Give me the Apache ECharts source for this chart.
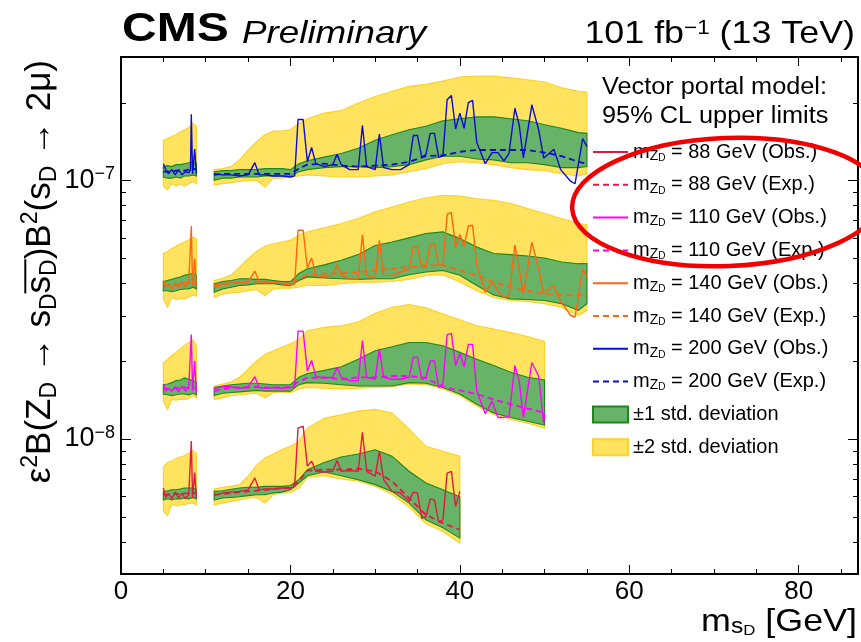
<!DOCTYPE html>
<html>
<head>
<meta charset="utf-8">
<script src="https://cdn.jsdelivr.net/npm/echarts@6/dist/echarts.min.js"></script>
<style>
html, body { margin: 0; padding: 0; background: #fff; }
#chart { width: 861px; height: 642px; }
</style>
</head>
<body>
<div id="chart"></div>
<script>
// all limits in units of 1e-9 (multiplied by UNIT when plotted)
const UNIT = 1e-9;

// mass grid of the expected bands (two windows: 5-8.9 and 11-55 GeV)
const X_BAND = [5, 5.5, 6, 6.5, 7, 7.5, 8, 8.5, 8.9,
  11, 12, 13, 14, 15, 16, 17, 18, 19, 20, 21, 22, 24, 26, 28, 30, 32, 34, 36, 38, 40,
  42, 44, 46, 48, 50, 52, 54, 55];

// mass points of the observed limits
const X_OBS = [5, 5.3, 5.6, 6, 6.4, 6.8, 7.2, 7.6, 8, 8.2, 8.3, 8.45, 8.7, 8.9,
  11, 12, 13, 14, 15, 15.8, 16.3, 17, 18, 19, 20, 20.5, 20.9, 21.5, 22, 22.5, 23,
  24, 25, 25.5, 26, 27, 28, 28.5, 29, 30, 30.5, 31, 32, 33, 34, 34.5, 35, 35.5, 36,
  36.5, 37, 37.5, 38, 38.5, 39, 39.5, 40, 40.5, 41, 41.5, 42, 43, 43.8, 44.5, 45.2,
  45.8, 46.5, 47, 47.5, 48.5, 49.3, 49.9, 50, 51.1, 51.9, 53.1, 53.6, 54.5, 55];

// m_ZD = 88 GeV
const OBS_88 = [6.45, 5.93, 6.17, 5.86, 6.22, 5.9, 6.17, 5.86, 6.08, 6.17, 9.8, 5.9, 7.4, 5.9,
  6.03, 6.17, 6.22, 6.26, 6.35, 7.06, 6.35, 6.4, 6.4, 6.45, 6.45, 6.55, 11.0, 11.2, 7.84, 8.2, 7.49,
  7.44, 7.49, 8.25, 7.49, 7.54, 7.49, 10.6, 7.49, 7.17, 8.96, 6.95, 6.26, 6.17, 5.73, 6.22, 6.17, 4.93, 5.0,
  5.86, 5.8, 4.76, 4.86, 7.37, 7.49, 5.48, 6.26];
const EXP_88 = [6.08, 6.08, 6.08, 6.12, 6.12, 6.15, 6.15, 6.17, 6.15,
  6.08, 6.12, 6.17, 6.22, 6.26, 6.3, 6.35, 6.4, 6.45, 6.45, 6.85, 7.54, 7.6, 7.6, 7.67, 7.49, 6.85, 5.9, 5.08, 4.72, 4.45];
const LO1_88 = [5.8, 5.86, 5.8, 5.86, 5.86, 5.9, 5.86, 5.93, 5.86,
  5.8, 5.9, 5.93, 5.97, 6.03, 6.08, 6.08, 6.17, 6.22, 6.35, 6.75, 7.2, 7.44, 7.2, 6.95, 6.65, 6.26, 5.64, 4.86, 4.53, 4.13];
const UP1_88 = [6.26, 6.3, 6.35, 6.35, 6.4, 6.45, 6.45, 6.45, 6.35,
  6.26, 6.3, 6.38, 6.45, 6.5, 6.5, 6.55, 6.55, 6.55, 6.6, 6.95, 7.6, 8.1, 8.5, 8.74, 9.07, 8.57, 7.49, 6.75, 6.35, 5.97];
const LO2_88 = [5.24, 5.05, 5.6, 5.5, 5.56, 5.56, 5.64, 5.64, 5.56,
  5.56, 5.64, 5.73, 5.8, 5.9, 5.93, 5.64, 6.08, 6.17, 6.2, 6.45, 7.1, 7.2, 7.0, 6.85, 6.55, 6.1, 5.45, 4.7, 4.38, 3.95];
const UP2_88 = [7.8, 8.1, 8.2, 8.4, 8.5, 8.6, 8.8, 9.0, 8.8,
  6.4, 6.5, 6.55, 6.65, 7.17, 7.9, 8.44, 8.74, 9.1, 9.35, 9.8, 11.0, 12.0, 12.4, 12.8, 13.0, 12.6, 10.9, 9.35, 8.96, 8.57];

// m_ZD = 110 GeV
const OBS_110 = [16.3, 15.3, 15.7, 15.3, 15.9, 15.2, 16.0, 15.3, 15.8, 15.6, 25.3, 15.3, 20.0, 15.1,
  15.7, 15.9, 15.9, 15.7, 15.9, 17.4, 15.8, 15.7, 15.8, 15.7, 15.8, 15.9, 26.1, 26.1, 18.3, 20.1, 17.4,
  17.2, 17.3, 18.9, 17.3, 16.8, 16.8, 24.0, 17.3, 17.0, 22.3, 17.3, 17.0, 17.0, 17.3, 20.7, 20.7, 17.0, 17.3,
  20.0, 20.0, 15.8, 16.3, 25.3, 25.6, 19.2, 21.4, 19.0, 23.2, 23.2, 15.3, 12.5, 14.0,
  12.1, 12.1, 12.2, 19.2, 16.8, 12.1, 19.7, 17.5, 11.5, 12.6];
const EXP_110 = [15.6, 15.6, 15.6, 15.7, 15.7, 15.8, 15.7, 15.8, 15.7,
  15.3, 15.6, 15.7, 15.8, 15.8, 15.9, 15.8, 15.8, 15.8, 15.9, 16.7, 17.2, 17.3, 17.0, 17.3, 17.3, 17.5, 17.5, 17.2, 15.9, 15.4,
  14.9, 14.2, 13.6, 13.1, 12.6];
const LO1_110 = [14.9, 14.8, 14.7, 14.8, 14.9, 14.9, 14.8, 15.0, 14.8,
  14.7, 15.0, 15.1, 15.2, 15.3, 15.4, 15.3, 15.3, 15.3, 15.3, 16.2, 16.5, 16.4, 16.2, 16.0, 16.0, 16.0, 16.5, 16.4, 15.8, 14.9,
  13.6, 12.6, 12.1, 11.7, 11.3];
const UP1_110 = [16.2, 16.3, 16.5, 16.8, 16.9, 17.2, 17.0, 16.8, 16.5,
  15.8, 16.0, 16.2, 16.3, 16.4, 16.4, 16.3, 16.2, 16.2, 16.2, 17.3, 17.9, 18.4, 19.0, 20.3, 21.9, 22.7, 23.6, 23.6, 22.9, 21.6,
  20.3, 19.2, 18.1, 17.3, 16.9];
const LO2_110 = [14.0, 13.0, 14.2, 14.1, 14.2, 14.2, 14.3, 14.7, 14.4,
  14.2, 14.4, 14.7, 14.8, 14.9, 15.0, 14.4, 15.1, 15.2, 15.1, 15.6, 15.8, 15.7, 15.6, 15.7, 15.8, 15.9, 16.3, 16.2, 15.6, 14.7,
  13.4, 12.4, 11.9, 11.5, 11.0];
const UP2_110 = [19.7, 20.3, 21.0, 21.6, 22.3, 23.0, 23.6, 24.1, 23.0,
  16.0, 16.3, 16.6, 17.3, 18.6, 20.0, 21.2, 21.9, 22.6, 23.3, 24.3, 26.2, 27.0, 27.4, 28.3, 30.6, 32.3, 33.1, 32.1, 30.4, 28.9,
  27.4, 26.6, 25.8, 24.9, 23.8];

// m_ZD = 140 GeV
const OBS_140 = [41.0, 38.6, 39.8, 38.0, 40.1, 38.3, 40.6, 38.6, 40.1, 39.8, 66.6, 39.2, 49.8, 39.2,
  39.2, 39.8, 40.1, 40.1, 40.4, 44.5, 40.6, 40.1, 40.4, 39.8, 39.4, 39.8, 64.1, 64.1, 45.8, 50.1, 42.9,
  42.3, 43.1, 47.1, 43.1, 41.6, 41.4, 61.7, 42.9, 41.9, 58.6, 42.9, 42.9, 44.2, 45.2, 55.2, 55.2, 46.2, 46.2,
  56.8, 56.8, 46.9, 47.1, 73.8, 75.1, 55.2, 61.7, 55.6, 66.6, 67.0, 47.1, 36.9, 40.6,
  37.4, 35.2, 35.8, 56.3, 45.5, 36.3, 57.7, 45.5, 36.3, 37.0, 39.2, 34.0, 30.0, 29.6, 45.5, 42.2];
const EXP_140 = [39.2, 39.2, 39.2, 39.4, 39.8, 40.1, 40.4, 40.6, 40.1,
  38.6, 39.4, 40.1, 40.4, 40.6, 40.6, 40.6, 40.4, 40.1, 39.8, 41.6, 43.1, 43.6, 43.6, 44.2, 44.8, 45.5, 46.2, 46.9, 46.9, 44.8,
  42.9, 40.4, 38.6, 37.4, 36.3, 36.0, 36.0, 36.1];
const LO1_140 = [37.4, 37.4, 37.1, 37.4, 37.8, 38.0, 38.0, 38.6, 38.0,
  36.9, 38.0, 38.6, 39.2, 39.4, 39.8, 39.8, 39.8, 39.4, 39.2, 41.0, 42.3, 41.9, 41.6, 41.4, 41.6, 41.6, 43.1, 44.2, 44.8, 42.9,
  39.2, 36.0, 34.8, 34.6, 34.3, 33.3, 31.4, 33.3];
const UP1_140 = [40.6, 41.0, 41.4, 41.9, 42.3, 42.9, 43.3, 43.6, 42.9,
  39.8, 40.6, 41.0, 41.6, 41.6, 41.4, 41.4, 41.0, 40.6, 40.6, 43.6, 45.5, 47.1, 49.1, 51.6, 56.0, 57.7, 59.9, 62.3, 63.2, 59.5,
  55.2, 52.1, 51.6, 51.0, 50.1, 48.3, 47.6, 47.6];
const LO2_140 = [34.8, 32.3, 35.3, 34.6, 35.0, 34.8, 35.3, 36.0, 35.6,
  35.2, 36.3, 36.7, 36.9, 37.4, 37.8, 35.8, 38.0, 38.3, 38.3, 38.6, 39.2, 39.2, 39.8, 40.4, 40.4, 40.6, 41.4, 42.9, 43.1, 40.4,
  37.4, 35.2, 34.3, 34.0, 33.3, 32.3, 30.0, 31.4];
const UP2_140 = [52.1, 53.1, 54.4, 55.6, 56.8, 57.7, 58.9, 60.3, 59.5,
  41.0, 41.8, 43.0, 46.2, 49.8, 53.1, 55.6, 56.8, 57.7, 58.6, 61.3, 63.2, 65.5, 68.1, 71.2, 75.5, 78.9, 82.5, 85.4, 87.5, 87.0,
  84.9, 83.7, 81.3, 77.8, 74.4, 71.2, 68.1, 67.5];

// m_ZD = 200 GeV
const OBS_200 = [116, 110, 106, 110, 105, 110, 105, 108, 107, 110, 180, 106, 132, 106,
  106, 105, 105, 104, 105, 117, 105, 105, 104, 104, 103, 104, 172, 172, 118, 134, 116,
  113, 115, 126, 115, 110, 110, 163, 113, 110, 151, 112, 110, 110, 115, 149, 149, 123, 126,
  152, 152, 123, 124, 205, 213, 158, 182, 159, 200, 204, 140, 116, 128,
  128, 119, 127, 190, 164, 122, 196, 157, 122, 124, 132, 110, 99, 97, 145, 135];
const EXP_200 = [108, 108, 108, 109, 109, 109, 110, 111, 110,
  105, 106, 106, 106, 106, 106, 106, 106, 106, 106, 111, 115, 116, 114, 113, 114, 115, 118, 124, 125, 129,
  131, 131, 131, 131, 128, 124, 118, 116];
const LO1_200 = [103, 102, 102, 103, 102, 104, 104, 105, 104,
  100, 102, 102, 103, 103, 103, 104, 104, 104, 104, 108, 110, 112, 113, 113, 112, 113, 115, 120, 124, 124,
  121, 120, 117, 117, 115, 112, 112, 113];
const UP1_200 = [113, 114, 113, 115, 115, 116, 117, 118, 116,
  108, 109, 109, 110, 110, 110, 111, 111, 111, 110, 116, 119, 123, 127, 133, 143, 150, 157, 162, 170, 173,
  176, 176, 173, 170, 164, 159, 153, 152];
const LO2_200 = [95, 92, 97, 95, 97, 95, 97, 99, 97,
  96, 97, 98, 99, 100, 100, 94, 102, 102, 103, 104, 105, 104, 103, 103, 104, 105, 108, 111, 116, 118,
  117, 115, 112, 110, 109, 106, 104, 106];
const UP2_200 = [143, 145, 148, 150, 154, 157, 160, 166, 162,
  110, 111, 113, 120, 131, 141, 150, 155, 155, 157, 166, 173, 182, 186, 199, 211, 221, 231, 235, 242, 251,
  253, 253, 249, 245, 240, 228, 221, 219];

const GROUPS = [
  { mass: '88', color: '#e11a40', obs: OBS_88, exp: EXP_88, lo1: LO1_88, up1: UP1_88, lo2: LO2_88, up2: UP2_88 },
  { mass: '110', color: '#ff00ff', obs: OBS_110, exp: EXP_110, lo1: LO1_110, up1: UP1_110, lo2: LO2_110, up2: UP2_110 },
  { mass: '140', color: '#ff6410', obs: OBS_140, exp: EXP_140, lo1: LO1_140, up1: UP1_140, lo2: LO2_140, up2: UP2_140 },
  { mass: '200', color: '#0c0cd0', obs: OBS_200, exp: EXP_200, lo1: LO1_200, up1: UP1_200, lo2: LO2_200, up2: UP2_200 }
];

const FONT = '"Liberation Sans", Arial, Helvetica, sans-serif';
const YELLOW = '#ffe25e', YELLOW_EDGE = '#fad22a';
const GREEN = '#67b367', GREEN_EDGE = '#1d861d';
const NAME_1S = '±1 std. deviation', NAME_2S = '±2 std. deviation';

// split index between the two mass windows
function cutIndex(xs) {
	return xs.findIndex(function (x) { return x > 10; });
}

function lineData(xs, ys) {
	let cut = cutIndex(xs);
	let out = [];
	ys.forEach(function (y, i) {
		if (i === cut) out.push([10, '-']);
		out.push([xs[i], y * UNIT]);
	});
	return out;
}

function bandRender(loKey, upKey, fill, edge) {
	return function (params, api) {
		let g = GROUPS[params.dataIndex];
		let lo = g[loKey], up = g[upKey];
		let cut = cutIndex(X_BAND);
		let children = [[0, cut], [cut, up.length]].map(function (r) {
			let pts = [];
			for (let i = r[0]; i < r[1]; i++) pts.push(api.coord([X_BAND[i], up[i] * UNIT]));
			for (let i = r[1] - 1; i >= r[0]; i--) pts.push(api.coord([X_BAND[i], lo[i] * UNIT]));
			return { type: 'polygon', shape: { points: pts }, style: { fill: fill, stroke: edge, lineWidth: 1.1 } };
		});
		return { type: 'group', children: children };
	};
}

function obsName(g) { return 'mZD = ' + g.mass + ' GeV (Obs.)'; }
function expName(g) { return 'mZD = ' + g.mass + ' GeV (Exp.)'; }

let series = [
	{
		type: 'custom', name: NAME_2S, renderItem: bandRender('lo2', 'up2', YELLOW, YELLOW_EDGE),
		data: GROUPS.map(function (g, k) { return [k, 1e-8]; }),
		itemStyle: { color: YELLOW, borderColor: YELLOW_EDGE, borderWidth: 1 }, clip: true, z: 1
	},
	{
		type: 'custom', name: NAME_1S, renderItem: bandRender('lo1', 'up1', GREEN, GREEN_EDGE),
		data: GROUPS.map(function (g, k) { return [k, 1e-8]; }),
		itemStyle: { color: GREEN, borderColor: GREEN_EDGE, borderWidth: 1 }, clip: true, z: 1
	}
];
GROUPS.forEach(function (g) {
	series.push({
		type: 'line', name: expName(g), data: lineData(X_BAND, g.exp), symbol: 'none',
		lineStyle: { color: g.color, width: 1.8, type: [6, 4] }, itemStyle: { color: g.color }, z: 3
	});
	series.push({
		type: 'line', name: obsName(g), data: lineData(X_OBS, g.obs), symbol: 'none',
		lineStyle: { color: g.color, width: 1.4 }, itemStyle: { color: g.color }, z: 4
	});
});

// line entries keep only their line sample (the symbol is made transparent)
let legendData = [];
GROUPS.forEach(function (g) {
	legendData.push({ name: obsName(g), itemStyle: { opacity: 0 } }, { name: expName(g), itemStyle: { opacity: 0 } });
});
legendData.push({ name: NAME_1S, icon: 'rect' }, { name: NAME_2S, icon: 'rect' });

function xAxisDef(pos, interval, len, labels) {
	return {
		type: 'value', min: 0, max: 87, interval: interval, position: pos,
		axisLine: { show: true, onZero: false, lineStyle: { color: '#000', width: 2 } },
		axisTick: { show: true, inside: true, length: len, lineStyle: { color: '#000', width: 1 } },
		axisLabel: { show: labels, showMaxLabel: false, fontFamily: FONT, fontSize: 26, color: '#000', margin: 5 },
		splitLine: { show: false }
	};
}
function yAxisDef(pos, labels) {
	return {
		type: 'log', logBase: 10, min: 3e-9, max: 3e-7, position: pos,
		axisLine: { show: true, onZero: false, lineStyle: { color: '#000', width: 2 } },
		axisTick: { show: true, inside: true, length: 10, lineStyle: { color: '#000', width: 1 } },
		axisLabel: {
			show: labels, margin: 6, color: '#000', fontFamily: FONT, fontSize: 27, lineHeight: 30,
			formatter: function (v) {
				let e = Math.log10(v);
				if (Math.abs(e - Math.round(e)) > 1e-6) return '';
				return '10{sup|\u2212' + (-Math.round(e)) + '}';
			},
			rich: { sup: { fontFamily: FONT, fontSize: 18, lineHeight: 8, verticalAlign: 'top', color: '#000' } }
		},
		splitLine: { show: false }
	};
}

let chart = echarts.init(document.getElementById('chart'));
chart.setOption({
	animation: false,
	backgroundColor: '#fff',
	grid: { left: 121, right: 3, top: 57, bottom: 68, outerBoundsMode: 'none', containLabel: false },
	xAxis: [
		xAxisDef('bottom', 20, 9, true),
		xAxisDef('bottom', 5, 5, false),
		xAxisDef('top', 20, 9, false),
		xAxisDef('top', 5, 5, false)
	],
	yAxis: [yAxisDef('left', true), yAxisDef('right', false)],
	legend: {
		left: 592, top: 141, orient: 'vertical', padding: 0,
		itemWidth: 35, itemHeight: 16, itemGap: 10.8, selectedMode: false,
		data: legendData,
		formatter: function (name) { return name.replace('mZD', 'm{z|Z}{d|D}'); },
		textStyle: {
			fontFamily: FONT, fontSize: 20, color: '#000', lineHeight: 22,
			rich: {
				z: { fontFamily: FONT, fontSize: 14, lineHeight: 10, verticalAlign: 'bottom', color: '#000' },
				d: { fontFamily: FONT, fontSize: 10, lineHeight: 4, verticalAlign: 'bottom', color: '#000' }
			}
		}
	},
	series: series
});

// texts, minor log ticks and the red marker ellipse
let x0 = chart.convertToPixel({ xAxisIndex: 0 }, 0);
let x1 = chart.convertToPixel({ xAxisIndex: 0 }, 87);
let graphics = [];
for (let e = -9; e <= -7; e++) {
	for (let k = 2; k <= 9; k++) {
		let v = k * Math.pow(10, e);
		if (v <= 3e-9 || v >= 3e-7) continue;
		let py = Math.round(chart.convertToPixel({ yAxisIndex: 0 }, v)) + 0.5;
		graphics.push({ type: 'line', shape: { x1: x0, y1: py, x2: x0 + 5, y2: py }, style: { stroke: '#000', lineWidth: 1 } });
		graphics.push({ type: 'line', shape: { x1: x1, y1: py, x2: x1 - 5, y2: py }, style: { stroke: '#000', lineWidth: 1 } });
	}
}

function txt(x, y, text, opt) {
	return Object.assign({
		type: 'text', x: x, y: y, z: 50,
		style: Object.assign({ text: text, fill: '#000', fontFamily: FONT, align: 'left', verticalAlign: 'middle' }, opt.style)
	}, opt.el || {});
}
graphics.push(txt(122, 30, 'CMS', { style: { fontSize: 40, fontWeight: 'bold' }, el: { scaleX: 1.2 } }));
graphics.push(txt(242, 34, 'Preliminary', { style: { fontSize: 32, fontStyle: 'italic' }, el: { scaleX: 1.15 } }));
graphics.push(txt(855, 34, '101 fb{p|\u22121} (13 TeV)', {
	style: { fontSize: 32, align: 'right', rich: { p: { fontFamily: FONT, fontSize: 20, lineHeight: 14, verticalAlign: 'top' } } },
	el: { scaleX: 1.12 }
}));
graphics.push(txt(602, 88, 'Vector portal model:', { style: { fontSize: 23 }, el: { scaleX: 1.1 } }));
graphics.push(txt(602, 117, '95% CL upper limits', { style: { fontSize: 23 }, el: { scaleX: 1.1 } }));
graphics.push(txt(857, 622, 'm{s|s}{d|D} [GeV]', {
	style: {
		fontSize: 32, align: 'right',
		rich: {
			s: { fontFamily: FONT, fontSize: 22, lineHeight: 14, verticalAlign: 'bottom' },
			d: { fontFamily: FONT, fontSize: 15, lineHeight: 2, verticalAlign: 'bottom' }
		}
	},
	el: { scaleX: 1.12 }
}));

// y-axis title, reading upwards, ending at the top of the frame
const YF = 35, YS = 23;
let yRich = {
	n: { fontFamily: FONT, fontSize: YF, lineHeight: 42 },
	p: { fontFamily: FONT, fontSize: YS, lineHeight: 16, verticalAlign: 'top' },
	b: { fontFamily: FONT, fontSize: YS, lineHeight: 16, verticalAlign: 'bottom' }
};
graphics.push(txt(40, 60, '{n|\u03b5}{p|2}{n|B(Z}{b|D}{n| \u2192 s}{b|D}{n|s}{b|D}{n|)B}{p|2}{n|(s}{b|D}{n| \u2192 2\u03bc)}', {
	style: { align: 'right', rich: yRich }, el: { rotation: Math.PI / 2 }
}));
// overline above the anti-particle s_D
let ctx = document.createElement('canvas').getContext('2d');
function w(s, size) { ctx.font = size + 'px ' + FONT; return ctx.measureText(s).width; }
let tail = w(')B', YF) + w('2', YS) + w('(s', YF) + w('D', YS) + w(' \u2192 2\u03bc)', YF);
let barLen = w('s', YF) + w('D', YS);
graphics.push({ type: 'line', z: 50, shape: { x1: 40 - 0.42 * YF, y1: 60 + tail, x2: 40 - 0.42 * YF, y2: 60 + tail + barLen }, style: { stroke: '#000', lineWidth: 2 } });

graphics.push({
	type: 'ellipse', x: 727, y: 202, rotation: 0.04, z: 100,
	shape: { cx: 0, cy: 0, rx: 155, ry: 64 },
	style: { fill: 'none', stroke: '#f00000', lineWidth: 4.5 }
});

chart.setOption({ graphic: graphics });
</script>
</body>
</html>
